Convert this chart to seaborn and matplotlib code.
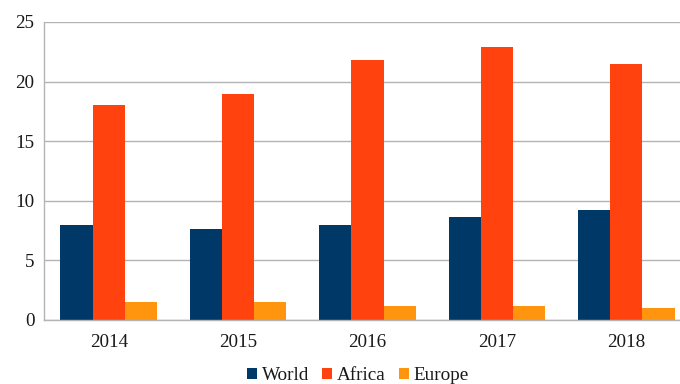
import matplotlib
matplotlib.use("Agg")
import matplotlib.pyplot as plt
import seaborn as sns
import pandas as pd

years = ["2014", "2015", "2016", "2017", "2018"]
world = [8.0, 7.6, 8.0, 8.6, 9.2]
africa = [18.0, 19.0, 21.8, 22.9, 21.5]
europe = [1.5, 1.5, 1.2, 1.2, 1.0]
series = ["World", "Africa", "Europe"]
colors = ["#003868", "#ff420e", "#ff950e"]

df = pd.DataFrame({
    "year": years * 3,
    "value": world + africa + europe,
    "region": [s for s in series for _ in years],
})

sns.set_theme(style="white")
plt.rcParams["font.family"] = ["Liberation Serif", "DejaVu Serif"]

FS = 13.8
fig = plt.figure(figsize=(6.8, 3.84), dpi=100)
ax = fig.add_axes([44 / 680, 64 / 384, 647 / 680, 298 / 384])

sns.barplot(data=df, x="year", y="value", hue="region", palette=colors,
            width=0.745, gap=0, linewidth=0, saturation=1, ax=ax,
            legend=True)

ax.set_xlim(-0.5, 4.5)
ax.set_ylim(0, 25)
ax.set_yticks([0, 5, 10, 15, 20, 25])
ax.set_xlabel("")
ax.set_ylabel("")
ax.grid(axis="y", color="#b3b3b3", linewidth=1.0)
ax.set_axisbelow(True)

for side in ["top", "right"]:
    ax.spines[side].set_visible(False)
for side in ["left", "bottom"]:
    ax.spines[side].set_color("#b3b3b3")
    ax.spines[side].set_linewidth(1.0)

# category ticks sit on the group boundaries, labels at group centres
ax.set_xticks([i + 0.5 for i in range(-1, 5)], minor=True)
ax.tick_params(axis="x", which="minor", length=5, color="#b3b3b3", width=1)
ax.tick_params(axis="x", which="major", length=0, labelsize=FS, pad=10, colors="#1a1a1a")
ax.tick_params(axis="y", length=5, color="#b3b3b3", width=1, labelsize=FS, pad=2, colors="#1a1a1a")

handles, labels = ax.get_legend_handles_labels()
ax.legend_.remove()
fig.legend(handles, labels, loc="center", bbox_to_anchor=(358 / 680, 8 / 384),
           ncol=3, frameon=False, fontsize=FS, handlelength=0.52, handleheight=0.52,
           handletextpad=0.25, columnspacing=0.67, borderpad=0, labelcolor="#1a1a1a")

fig.savefig("out.png", dpi=100, facecolor="white")
